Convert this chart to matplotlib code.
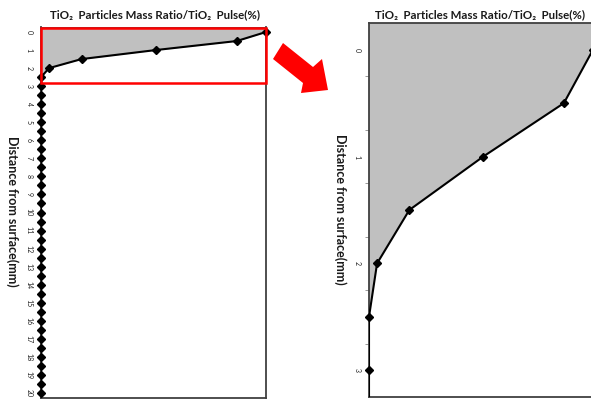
import matplotlib
matplotlib.use("Agg")
import matplotlib.pyplot as plt
from matplotlib.patches import Polygon, Rectangle
import numpy as np

plt.rcParams['font.family'] = ['Lato', 'DejaVu Sans']

# Data
depth_mm = [0, 0.5, 1, 1.5, 2, 2.5] + [3 + 0.5 * i for i in range(35)]
ratio_pct = [100, 87, 51, 18, 3.6, 0] + [0] * 35
left_ticks = list(range(0, 21))
right_ticks = [0, 1, 2, 3]
title = "TiO\u2082  Particles Mass Ratio/TiO\u2082  Pulse(%)"
ylabel = "Distance from surface(mm)"

W, H = 591, 399
fig = plt.figure(figsize=(W / 100, H / 100), dpi=100)

def frac(x0, y0, x1, y1):
    return [x0 / W, 1 - y1 / H, (x1 - x0) / W, (y1 - y0) / H]

spine_col = '#404040'
fill_col = '#c0c0c0'

def style(ax, ylim, ticks, minor):
    ax.set_xlim(0, 100)
    ax.set_ylim(*ylim)
    ax.set_xticks([])
    ax.set_yticks(ticks)
    ax.set_yticks(minor, minor=True)
    ax.tick_params(axis='y', which='major', length=0, labelsize=5, pad=6,
                   labelrotation=-90, labelcolor='#222222')
    ax.tick_params(axis='y', which='minor', length=3, color='#888888', width=0.6)
    for lab in ax.get_yticklabels():
        lab.set_verticalalignment('center')
    for s in ax.spines.values():
        s.set_color(spine_col)
        s.set_linewidth(1.3)

def draw(ax, ylim):
    top = ylim[1]
    # gray area: full width above the surface, then up to the profile
    fd = [top] + depth_mm
    fr = [ratio_pct[0]] + ratio_pct
    ax.fill_betweenx(fd, 0, fr, color=fill_col, lw=0)
    ax.plot(ratio_pct, depth_mm, color='black', lw=1.5, zorder=5)
    inside = [(r, d) for r, d in zip(ratio_pct, depth_mm) if top <= d <= ylim[0]]
    ax.plot([p[0] for p in inside], [p[1] for p in inside], ls='none',
            color='black', marker='D', ms=4, clip_on=False, zorder=6)

# Left panel
axL = fig.add_axes(frac(41, 27.5, 266, 397.5))
draw(axL, (20.25, -0.25))
style(axL, (20.25, -0.25), left_ticks, [])
axL.add_patch(Rectangle((0, -0.25), 100, 3.05, fill=False, ec='#ff0000',
                        lw=1.8, clip_on=False, zorder=7))

# Right panel
axR = fig.add_axes(frac(369, 23, 593, 397))
draw(axR, (3.25, -0.25))
style(axR, (3.25, -0.25), right_ticks, [0.25, 0.75, 1.25, 1.75, 2.25, 2.75])

# Titles & labels
fig.text(155 / W, 1 - 15 / H, title, ha='center', va='center',
         fontsize=8.3, fontweight='bold', color='#1a1a1a')
fig.text(480 / W, 1 - 15 / H, title, ha='center', va='center',
         fontsize=8.3, fontweight='bold', color='#1a1a1a')
fig.text(12 / W, 1 - 211 / H, ylabel, ha='center', va='center', rotation=-90,
         fontsize=9, fontweight='bold', color='#1a1a1a')
fig.text(340 / W, 1 - 209 / H, ylabel, ha='center', va='center', rotation=-90,
         fontsize=9, fontweight='bold', color='#1a1a1a')

# Red arrow
arrow_px = [(283, 43), (313, 67), (322, 59), (328, 90), (301, 93), (303, 83), (273, 59)]
arrow = Polygon([(x / W, 1 - y / H) for x, y in arrow_px], closed=True,
                transform=fig.transFigure, color='#ff0000', lw=0)
fig.patches.append(arrow)

fig.savefig('out.png', dpi=100)
